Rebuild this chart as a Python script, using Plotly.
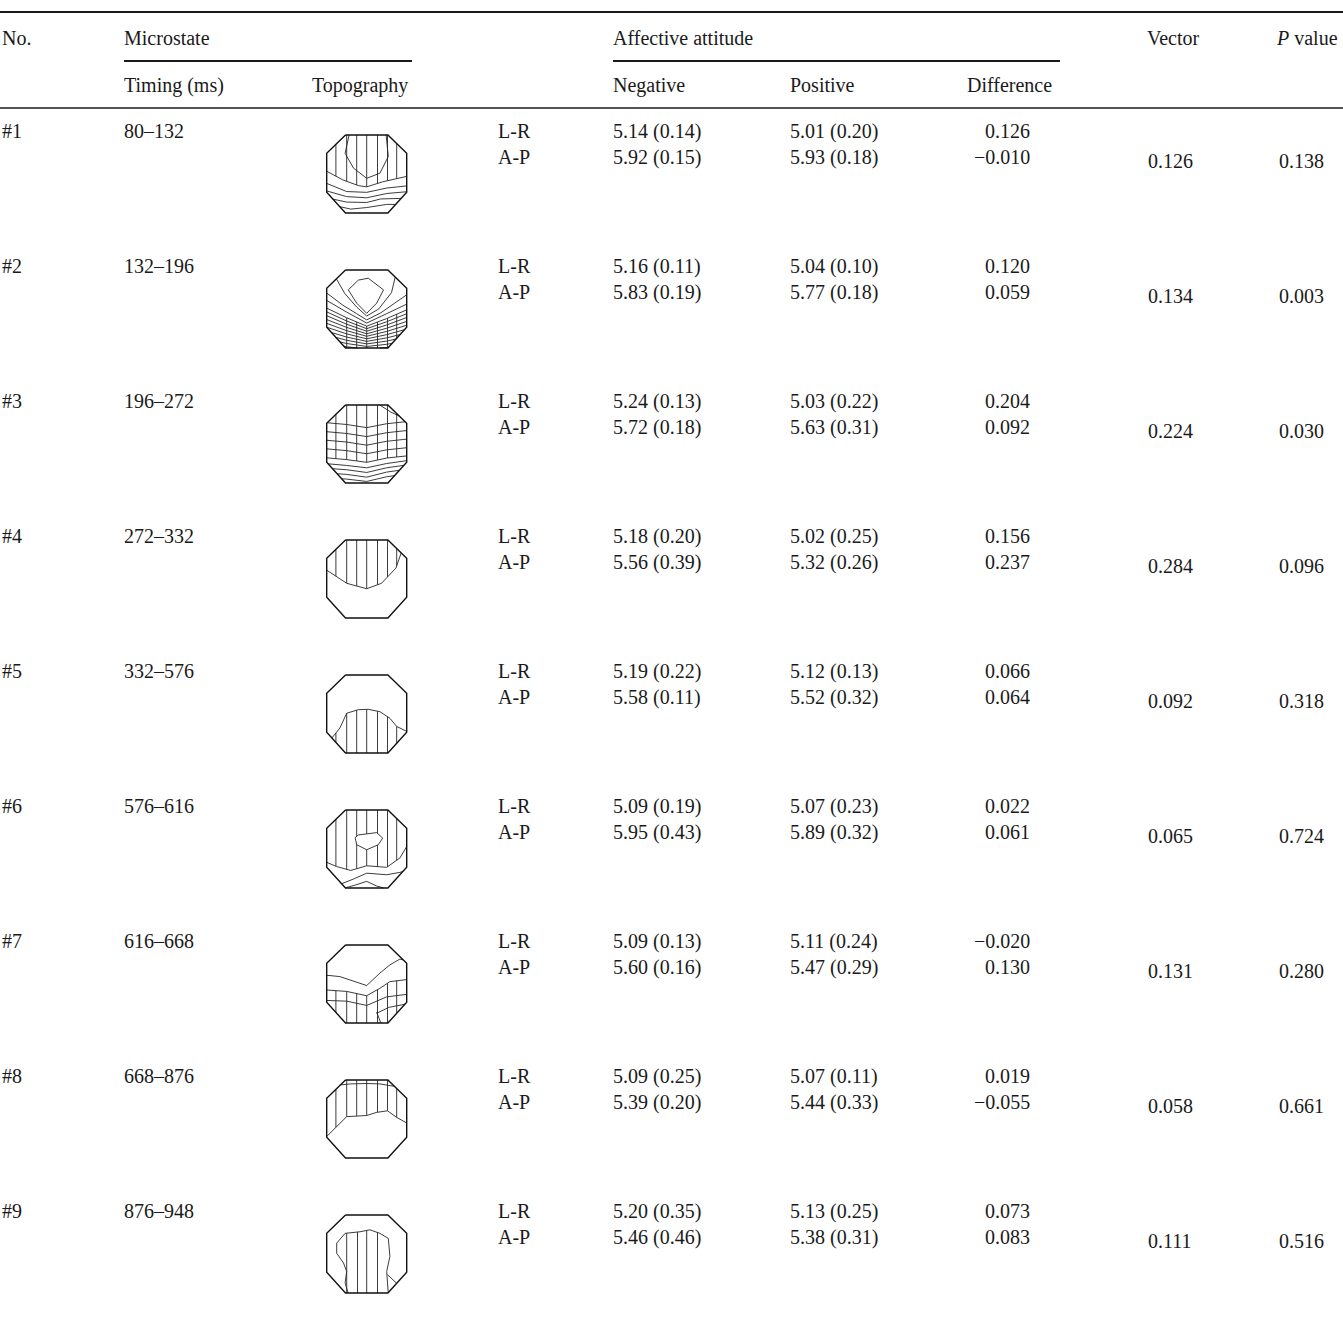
import numpy as np
import plotly.graph_objects as go

# ---------------- table content ----------------
nos = ["#1", "#2", "#3", "#4", "#5", "#6", "#7", "#8", "#9"]
timings = ["80–132", "132–196", "196–272", "272–332", "332–576",
           "576–616", "616–668", "668–876", "876–948"]

neg_lr_mean = [5.14, 5.16, 5.24, 5.18, 5.19, 5.09, 5.09, 5.09, 5.20]
neg_lr_se = [0.14, 0.11, 0.13, 0.20, 0.22, 0.19, 0.13, 0.25, 0.35]
pos_lr_mean = [5.01, 5.04, 5.03, 5.02, 5.12, 5.07, 5.11, 5.07, 5.13]
pos_lr_se = [0.20, 0.10, 0.22, 0.25, 0.13, 0.23, 0.24, 0.11, 0.25]
diff_lr = [0.126, 0.120, 0.204, 0.156, 0.066, 0.022, -0.020, 0.019, 0.073]

neg_ap_mean = [5.92, 5.83, 5.72, 5.56, 5.58, 5.95, 5.60, 5.39, 5.46]
neg_ap_se = [0.15, 0.19, 0.18, 0.39, 0.11, 0.43, 0.16, 0.20, 0.46]
pos_ap_mean = [5.93, 5.77, 5.63, 5.32, 5.52, 5.89, 5.47, 5.44, 5.38]
pos_ap_se = [0.18, 0.18, 0.31, 0.26, 0.32, 0.32, 0.29, 0.33, 0.31]
diff_ap = [-0.010, 0.059, 0.092, 0.237, 0.064, 0.061, 0.130, -0.055, 0.083]

vector = [0.126, 0.134, 0.224, 0.284, 0.092, 0.065, 0.131, 0.058, 0.111]
p_values = [0.138, 0.003, 0.030, 0.096, 0.318, 0.724, 0.280, 0.661, 0.516]

# ---------------- page geometry ----------------
W, H = 1343, 1338
FONT = "Liberation Serif, Times New Roman, serif"
FS = 20
INK = "#1a1a1a"
PAD = 2  # annotation box padding compensation

X_NO, X_TIME, X_TOPO, X_AXIS = 0, 124, 312, 498
X_NEG, X_POS, X_DIFF_R, X_VEC, X_P = 613, 790, 1030, 1148, 1279
ROW0, ROW_STEP, LINE2 = 131, 135, 26

fig = go.Figure()
annotations = []


def txt(x, y, s, anchor="left"):
    if anchor == "left":
        xx = max(x - PAD, 0)
    else:
        xx = x + PAD
    annotations.append(dict(
        x=xx, y=y, xref="x", yref="y", text=s, showarrow=False,
        xanchor=anchor, yanchor="middle",
        font=dict(family=FONT, size=FS, color=INK)))


def ms(m, s):
    return f"{m:.2f} ({s:.2f})"


def signed(v):
    s = f"{abs(v):.3f}"
    return "−" + s if v < 0 else s


# header
txt(X_NO, 38, "No.")
txt(X_TIME, 38, "Microstate")
txt(X_NEG, 38, "Affective attitude")
txt(1147, 38, "Vector")
txt(1276, 38, "<i>P</i> value")
txt(X_TIME, 85, "Timing (ms)")
txt(X_TOPO, 85, "Topography")
txt(X_NEG, 85, "Negative")
txt(X_POS, 85, "Positive")
txt(967, 85, "Difference")

shapes = [
    dict(type="line", xref="x", yref="y", x0=0, x1=W, y0=12, y1=12,
         line=dict(color=INK, width=2)),
    dict(type="line", xref="x", yref="y", x0=124, x1=412, y0=61, y1=61,
         line=dict(color=INK, width=2)),
    dict(type="line", xref="x", yref="y", x0=613, x1=1060, y0=61, y1=61,
         line=dict(color=INK, width=2)),
    dict(type="line", xref="x", yref="y", x0=0, x1=W, y0=108, y1=108,
         line=dict(color=INK, width=1.3)),
]

for i in range(len(nos)):
    y1 = ROW0 + i * ROW_STEP
    y2 = y1 + LINE2
    txt(X_NO, y1, nos[i])
    txt(X_TIME, y1, timings[i])
    txt(X_AXIS, y1, "L-R")
    txt(X_AXIS, y2, "A-P")
    txt(X_NEG, y1, ms(neg_lr_mean[i], neg_lr_se[i]))
    txt(X_NEG, y2, ms(neg_ap_mean[i], neg_ap_se[i]))
    txt(X_POS, y1, ms(pos_lr_mean[i], pos_lr_se[i]))
    txt(X_POS, y2, ms(pos_ap_mean[i], pos_ap_se[i]))
    txt(X_DIFF_R, y1, signed(diff_lr[i]), anchor="right")
    txt(X_DIFF_R, y2, signed(diff_ap[i]), anchor="right")
    txt(X_VEC, y2 + 4, f"{vector[i]:.3f}")
    txt(X_P, y2 + 4, f"{p_values[i]:.3f}")

# ---------------- topographic sketches ----------------
# octagonal head outline in unit coordinates (u right, v down)
OCT = [(-0.53, -1), (0.53, -1), (1, -0.53), (1, 0.47),
       (0.53, 1), (-0.53, 1), (-1, 0.47), (-1, -0.53)]


def clip_segment(p0, p1, poly=OCT):
    """Cyrus-Beck clip of a segment against the convex outline."""
    t0, t1 = 0.0, 1.0
    d = (p1[0] - p0[0], p1[1] - p0[1])
    n_pts = len(poly)
    for k in range(n_pts):
        a, b = poly[k], poly[(k + 1) % n_pts]
        n = (-(b[1] - a[1]), b[0] - a[0])
        if n[0] * (0 - a[0]) + n[1] * (0 - a[1]) < 0:
            n = (-n[0], -n[1])
        f0 = n[0] * (p0[0] - a[0]) + n[1] * (p0[1] - a[1])
        fd = n[0] * d[0] + n[1] * d[1]
        if abs(fd) < 1e-12:
            if f0 < 0:
                return None
            continue
        t = -f0 / fd
        if fd > 0:
            t0 = max(t0, t)
        else:
            t1 = min(t1, t)
        if t0 > t1:
            return None
    return ((p0[0] + t0 * d[0], p0[1] + t0 * d[1]),
            (p0[0] + t1 * d[0], p0[1] + t1 * d[1]))


def curve_v(curve, u):
    us = [p[0] for p in curve]
    vs = [p[1] for p in curve]
    return float(np.interp(u, us, vs))


HATCH7 = [-0.77, -0.5, -0.25, 0, 0.27, 0.52, 0.75]

# map 1
m1_u = [(-0.43, -1.05), (-0.54, -0.53), (-0.33, -0.15), (0, 0.11),
        (0.33, -0.02), (0.54, -0.45), (0.48, -1.05)]
m1_c2 = [(-1.05, -0.1), (-0.6, 0.15), (-0.2, 0.3), (0, 0.33), (0.4, 0.2), (1.05, 0.05)]
m1_lines = [
    m1_u, m1_c2,
    [(-1.05, 0.22), (-0.5, 0.45), (0, 0.47), (0.5, 0.36), (1.05, 0.3)],
    [(-1.05, 0.42), (-0.5, 0.58), (0, 0.61), (0.5, 0.5), (1.05, 0.45)],
    [(-1.05, 0.6), (-0.5, 0.72), (0, 0.73), (0.35, 0.64), (1.05, 0.62)],
    [(-1.05, 0.75), (-0.4, 0.9), (0, 0.86), (0.5, 0.78), (1.05, 0.78)],
]

# map 2
m2_dense = []
for k in range(10):
    left = -0.05 + 0.1 * k
    centre = 0.44 + 0.065 * k
    m2_dense.append([(-1.05, left), (-0.5, (left + centre) / 2 + 0.03),
                     (0, centre), (0.5, (left + centre) / 2 + 0.05), (1.05, left + 0.05)])
m2_lines = [
    [(-0.46, -0.49), (-0.21, -0.74), (0.04, -0.79), (0.42, -0.49),
     (0.25, -0.15), (0, 0.11), (-0.25, -0.15), (-0.46, -0.49)],
    [(-0.8, -0.85), (-0.55, -0.4), (-0.25, -0.05), (0, 0.18),
     (0.3, 0.0), (0.62, -0.42), (0.72, -0.85)],
    [(-1.05, -0.45), (-0.6, -0.1), (-0.25, 0.12), (0, 0.28),
     (0.35, 0.1), (0.7, -0.15), (1.05, -0.4)],
    [(-1.05, -0.25), (-0.5, 0.08), (0, 0.36), (0.5, 0.12), (1.05, -0.15)],
] + m2_dense

# map 3
m3_base = [(-1.05, 0.35), (-0.5, 0.4), (0, 0.47), (0.5, 0.36), (1.05, 0.3)]
m3_lines = [[(-1.05, a), (-0.5, a + 0.05), (0, a + 0.13), (0.5, a + 0.03), (1.05, a - 0.03)]
            for a in (-0.55, -0.32, -0.1, 0.12)]
m3_lines += [m3_base,
             [(-1.05, 0.5), (-0.5, 0.55), (0, 0.61), (0.5, 0.5), (1.05, 0.42)],
             [(-1.05, 0.62), (-0.5, 0.66), (0, 0.73), (0.5, 0.61), (1.05, 0.53)],
             [(-1.05, 0.74), (-0.5, 0.78), (0, 0.85), (0.5, 0.72), (1.05, 0.64)],
             [(-1.05, 0.86), (-0.5, 0.9), (0, 0.96), (0.5, 0.84), (1.05, 0.76)],
             [(0.25, -1.05), (0.6, -0.82), (1.05, -0.6)]]

# map 4
m4_u = [(-1.05, -0.26), (-0.5, 0.11), (0, 0.25), (0.37, 0.11),
        (0.73, -0.28), (0.87, -0.69), (0.95, -0.8)]

# map 5
m5_dome = [(-0.95, 0.7), (-0.875, 0.62), (-0.67, 0.36), (-0.5, -0.02),
           (-0.21, -0.11), (0.04, -0.12), (0.33, -0.06), (0.58, 0.11),
           (0.75, 0.32), (1.05, 0.47)]

# map 6
m6_a = [(-1.05, 0.32), (-0.75, 0.45), (-0.4, 0.55), (0, 0.43),
        (0.5, 0.47), (0.83, 0.23), (1.05, -0.15)]
m6_lines = [m6_a,
            [(-0.7, 0.92), (-0.33, 0.77), (0, 0.62), (0.5, 0.66), (0.83, 0.6), (1.05, 0.52)],
            [(-0.62, 1.02), (-0.3, 0.93), (0, 0.83), (0.25, 0.95), (0.5, 1.02)]]
m6_spot = [(-0.29, -0.29), (-0.21, -0.36), (0.25, -0.42), (0.4, -0.28),
           (0.29, -0.11), (0, 0.02), (-0.25, -0.11), (-0.29, -0.29)]

# map 7
m7_g = [(-1.05, 0.15), (-0.5, 0.19), (0, 0.3), (0.33, 0.11), (0.58, -0.06), (1.05, -0.12)]
m7_lines = [[(-1.05, -0.23), (-0.67, -0.19), (0, 0.04), (0.33, -0.28),
             (0.58, -0.49), (0.83, -0.64), (1.05, -0.58)],
            m7_g,
            [(-1.05, 0.42), (-0.5, 0.44), (0, 0.55), (0.5, 0.33), (1.05, 0.26)],
            [(0.25, 0.75), (0.55, 0.6), (1.05, 0.5)],
            [(0.25, 0.72), (0.36, 1.02)]]

# map 8
m8_b = [(-1.05, 0.5), (-0.5, -0.06), (0, -0.09), (0.25, -0.17),
        (0.52, -0.21), (0.75, -0.04), (1.05, 0.13)]
m8_lines = [[(-0.8, -0.86), (-0.4, -0.9), (0, -0.91), (0.33, -0.9), (0.8, -0.82)], m8_b]

# map 9
m9_top = [(-0.54, -0.53), (-0.17, -0.57), (0.08, -0.62), (0.33, -0.53), (0.54, -0.4)]
m9_lines = [m9_top,
            [(0.54, -0.4), (0.58, 0.06), (0.5, 0.45), (0.54, 1.02)],
            [(-0.54, -0.53), (-0.75, -0.28), (-0.75, -0.02), (-0.58, 0.23),
             (-0.5, 0.45), (-0.54, 0.74), (-0.46, 1.02)],
            [(0.52, 0.53), (0.78, 0.78)]]

sketches = [
    dict(lines=m1_lines, hatch=[(HATCH7, None, m1_c2)]),
    dict(lines=m2_lines, hatch=[([-0.5, -0.25, 0, 0.27, 0.52, 0.75], m2_dense[0], None)]),
    dict(lines=m3_lines, hatch=[(HATCH7, None, m3_base)]),
    dict(lines=[m4_u], hatch=[(HATCH7, None, m4_u)]),
    dict(lines=[m5_dome], hatch=[(HATCH7, m5_dome, None)]),
    dict(lines=m6_lines, hatch=[(HATCH7, None, m6_a)], spot=m6_spot),
    dict(lines=m7_lines, hatch=[(HATCH7, m7_g, None)]),
    dict(lines=m8_lines, hatch=[(HATCH7, None, m8_b)]),
    dict(lines=m9_lines, hatch=[([-0.5, -0.23, 0, 0.27], m9_top, None)]),
]

CX, SX, SY, DY = 366.7, 40, 39, 43

for i, sk in enumerate(sketches):
    cy = ROW0 + i * ROW_STEP + DY

    def to_px(p):
        return CX + p[0] * SX, cy + p[1] * SY

    xs, ys = [], []

    def add_seg(a, b):
        c = clip_segment(a, b)
        if c is None:
            return
        (xa, ya), (xb, yb) = to_px(c[0]), to_px(c[1])
        xs.extend([xa, xb, None])
        ys.extend([ya, yb, None])

    for line in sk["lines"]:
        for a, b in zip(line[:-1], line[1:]):
            add_seg(a, b)
    for us, top, bot in sk["hatch"]:
        for u in us:
            v0 = curve_v(top, u) if top is not None else -1.2
            v1 = curve_v(bot, u) if bot is not None else 1.2
            if v1 > v0:
                add_seg((u, v0), (u, v1))

    fig.add_trace(go.Scatter(x=xs, y=ys, mode="lines", hoverinfo="skip",
                             line=dict(color="#262626", width=0.9)))
    if "spot" in sk:
        sp = [to_px(p) for p in sk["spot"]]
        fig.add_trace(go.Scatter(x=[p[0] for p in sp], y=[p[1] for p in sp],
                                 mode="lines", fill="toself", fillcolor="white",
                                 hoverinfo="skip", line=dict(color="#262626", width=0.9)))
    outline = [to_px(p) for p in OCT + [OCT[0]]]
    fig.add_trace(go.Scatter(x=[p[0] for p in outline], y=[p[1] for p in outline],
                             mode="lines", hoverinfo="skip",
                             line=dict(color="#111", width=1.4)))

fig.update_layout(
    width=W, height=H, margin=dict(l=0, r=0, t=0, b=0),
    paper_bgcolor="white", plot_bgcolor="white", showlegend=False,
    xaxis=dict(range=[0, W], visible=False, fixedrange=True),
    yaxis=dict(range=[H, 0], visible=False, fixedrange=True),
    annotations=annotations, shapes=shapes,
)

fig.write_html("out.html")
